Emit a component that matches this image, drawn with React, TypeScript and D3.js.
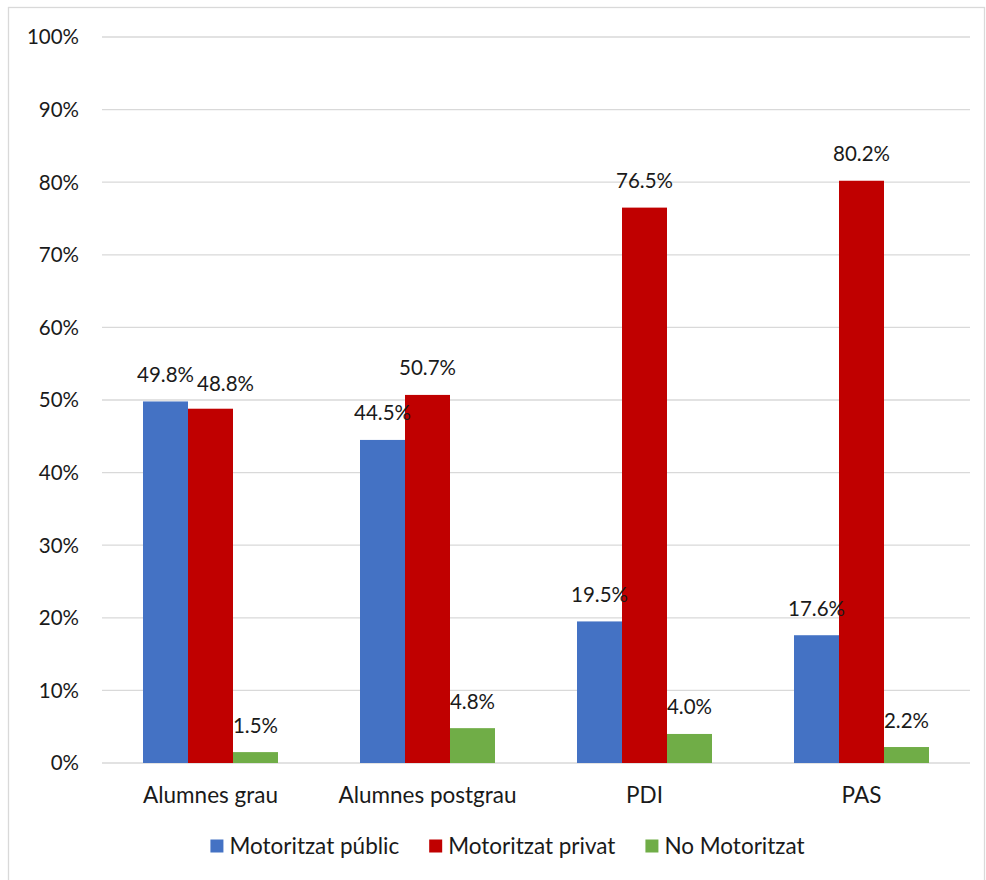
import { useEffect, useRef } from 'react';
import * as d3 from 'd3';

const categories = ['Alumnes grau', 'Alumnes postgrau', 'PDI', 'PAS'];
const seriesNames = ['Motoritzat públic', 'Motoritzat privat', 'No Motoritzat'];
const seriesColors = ['#4472c4', '#c00000', '#70ad47'];
const publicValues = [49.8, 44.5, 19.5, 17.6];
const privateValues = [48.8, 50.7, 76.5, 80.2];
const nonMotorValues = [1.5, 4.8, 4.0, 2.2];
const yTicks = [0, 10, 20, 30, 40, 50, 60, 70, 80, 90, 100];

// hand-moved label in the original (series index, category index) -> nudge
const labelNudge: Record<string, [number, number]> = { '1-0': [15, 2] };

const FONT = 'Lato, "Open Sans", sans-serif';

export default function App() {
  const svgRef = useRef<SVGSVGElement | null>(null);

  useEffect(() => {
    if (!svgRef.current) return;
    const svg = d3.select(svgRef.current);
    svg.selectAll('*').remove();

    const width = 986;
    const height = 880;
    const margin = { top: 37, right: 16, bottom: 117, left: 102 };

    const series = [publicValues, privateValues, nonMotorValues];

    svg
      .append('rect')
      .attr('x', 8.5)
      .attr('y', 7.5)
      .attr('width', 976)
      .attr('height', 880)
      .attr('fill', '#fff')
      .attr('stroke', '#d9d9d9')
      .attr('stroke-width', 1.3);

    const x0 = d3
      .scaleBand<string>()
      .domain(categories)
      .range([margin.left, width - margin.right]);

    const barW = 45;
    const x1 = d3
      .scaleBand<number>()
      .domain([0, 1, 2])
      .range([0, barW * 3]);

    const y = d3
      .scaleLinear()
      .domain([0, 100])
      .range([height - margin.bottom, margin.top]);

    // grid
    svg
      .append('g')
      .selectAll('line')
      .data(yTicks)
      .join('line')
      .attr('x1', margin.left)
      .attr('x2', width - margin.right)
      .attr('y1', (d) => y(d))
      .attr('y2', (d) => y(d))
      .attr('stroke', '#d9d9d9')
      .attr('stroke-width', 1.3);

    svg
      .append('g')
      .selectAll('text')
      .data(yTicks)
      .join('text')
      .attr('x', 79)
      .attr('y', (d) => y(d))
      .attr('dy', '0.36em')
      .attr('text-anchor', 'end')
      .attr('font-family', FONT)
      .attr('font-size', 20.5)
      .attr('fill', '#1a1a1a')
      .text((d) => `${d}%`);

    const groupOffset = (x0.bandwidth() - barW * 3) / 2;

    series.forEach((vals, si) => {
      const g = svg.append('g');
      g.selectAll('rect')
        .data(vals)
        .join('rect')
        .attr('x', (_, i) => x0(categories[i])! + groupOffset + x1(si)!)
        .attr('y', (d) => y(d))
        .attr('width', x1.bandwidth())
        .attr('height', (d) => y(0) - y(d))
        .attr('fill', seriesColors[si]);
    });

    series.forEach((vals, si) => {
      svg
        .append('g')
        .selectAll('text')
        .data(vals)
        .join('text')
        .attr('x', (_, i) => {
          const n = labelNudge[`${si}-${i}`];
          return x0(categories[i])! + groupOffset + x1(si)! + x1.bandwidth() / 2 + (n ? n[0] : 0);
        })
        .attr('y', (d, i) => {
          const n = labelNudge[`${si}-${i}`];
          return y(d) - 19.5 + (n ? n[1] : 0);
        })
        .attr('text-anchor', 'middle')
        .attr('font-family', FONT)
        .attr('font-size', 20.5)
        .attr('fill', '#1a1a1a')
        .text((d) => `${d.toFixed(1)}%`);
    });

    svg
      .append('g')
      .selectAll('text')
      .data(categories)
      .join('text')
      .attr('x', (d) => x0(d)! + x0.bandwidth() / 2)
      .attr('y', 795)
      .attr('dy', '0.36em')
      .attr('text-anchor', 'middle')
      .attr('font-family', FONT)
      .attr('font-size', 22.5)
      .attr('fill', '#1a1a1a')
      .text((d) => d);

    // legend
    const legend = svg.append('g');
    const sq = 13;
    const items = seriesNames.map((name, i) => {
      const item = legend.append('g');
      item
        .append('rect')
        .attr('width', sq)
        .attr('height', sq)
        .attr('y', 846 - sq / 2)
        .attr('fill', seriesColors[i]);
      const t = item
        .append('text')
        .attr('x', sq + 6)
        .attr('y', 846)
        .attr('dy', '0.36em')
        .attr('font-family', FONT)
        .attr('font-size', 22.5)
        .attr('fill', '#1a1a1a')
        .text(name);
      const w = sq + 6 + (t.node() as SVGTextElement).getComputedTextLength();
      return { item, w };
    });
    const gap = 30;
    const total = d3.sum(items, (d) => d.w) + gap * (items.length - 1);
    let cx = 507.5 - total / 2;
    items.forEach(({ item, w }) => {
      item.attr('transform', `translate(${cx},0)`);
      cx += w + gap;
    });
  }, []);

  return (
    <svg
      ref={svgRef}
      width={986}
      height={880}
      style={{ position: 'absolute', left: 0, top: 0, background: '#fff' }}
    />
  );
}
